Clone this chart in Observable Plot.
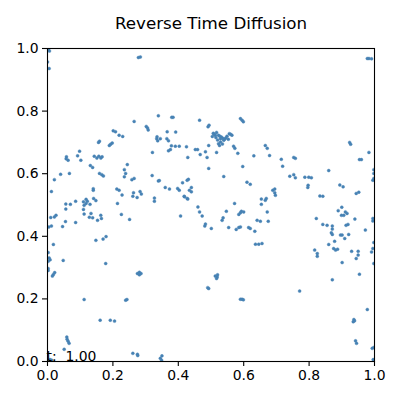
<!DOCTYPE html>
<html>
<head>
<meta charset="utf-8">
<script src="https://cdn.jsdelivr.net/npm/d3@7"></script>
<script src="https://cdn.jsdelivr.net/npm/@observablehq/plot@0.6"></script>
<style>
  html, body { margin: 0; padding: 0; background: white; }
  #chart svg { display: block; }
  #chart svg text { white-space: pre; }
</style>
</head>
<body>
<div id="chart"></div>
<script>
// Sample positions (x, y), grouped by region
const regionTop = [[0.003,0.997],[0.006,0.992],[0.000,0.957],[0.005,0.936],[0.284,0.973],[0.278,0.971],[0.983,0.968],[0.978,0.968],[0.991,0.967]];

const regionUpperLeft = [[0.339,0.785],[0.265,0.767],[0.306,0.746],[0.302,0.751],[0.308,0.740],[0.201,0.737],[0.208,0.734],[0.219,0.723],[0.230,0.719],[0.334,0.712],[0.337,0.705],[0.156,0.700],[0.159,0.704],[0.189,0.690],[0.198,0.698],[0.193,0.694],[0.098,0.672],[0.321,0.668],[0.058,0.654],[0.063,0.643],[0.057,0.648],[0.092,0.657],[0.102,0.643],[0.143,0.656],[0.157,0.656],[0.163,0.650],[0.151,0.650],[0.167,0.654],[0.244,0.629],[0.131,0.626],[0.138,0.620],[0.235,0.613],[0.159,0.601],[0.171,0.593],[0.166,0.597],[0.239,0.601],[0.235,0.590],[0.040,0.598],[0.067,0.601],[0.320,0.594],[0.258,0.581],[0.265,0.585],[0.021,0.581],[0.339,0.577],[0.012,0.543],[0.140,0.547],[0.140,0.552],[0.212,0.551],[0.219,0.547],[0.228,0.532],[0.263,0.539],[0.261,0.528],[0.283,0.543],[0.287,0.535],[0.274,0.524],[0.327,0.522],[0.141,0.521],[0.118,0.518]];

const regionUpperMiddle = [[0.380,0.780],[0.384,0.780],[0.465,0.771],[0.595,0.771],[0.590,0.776],[0.599,0.766],[0.491,0.750],[0.494,0.755],[0.513,0.723],[0.529,0.712],[0.539,0.707],[0.523,0.696],[0.556,0.728],[0.564,0.723],[0.549,0.720],[0.507,0.729],[0.517,0.732],[0.523,0.723],[0.532,0.717],[0.541,0.710],[0.520,0.708],[0.529,0.701],[0.535,0.695],[0.504,0.719],[0.553,0.710],[0.526,0.690],[0.510,0.726],[0.515,0.716],[0.527,0.720],[0.536,0.713],[0.545,0.714],[0.560,0.726],[0.366,0.734],[0.392,0.733],[0.335,0.718],[0.345,0.712],[0.365,0.712],[0.370,0.705],[0.379,0.689],[0.391,0.688],[0.403,0.688],[0.425,0.686],[0.493,0.690],[0.569,0.688],[0.573,0.681],[0.370,0.673],[0.376,0.677],[0.452,0.677],[0.459,0.677],[0.483,0.670],[0.467,0.661],[0.517,0.668],[0.582,0.665],[0.429,0.652],[0.488,0.652],[0.631,0.657],[0.666,0.690],[0.672,0.681],[0.679,0.658],[0.493,0.617],[0.597,0.623],[0.539,0.591],[0.342,0.578],[0.427,0.579],[0.431,0.582],[0.413,0.571],[0.610,0.573],[0.620,0.566],[0.360,0.556],[0.373,0.551],[0.398,0.553],[0.403,0.547],[0.434,0.547],[0.440,0.556],[0.440,0.542],[0.418,0.528],[0.427,0.521],[0.654,0.519],[0.669,0.521]];

const regionUpperRight = [[0.715,0.646],[0.719,0.624],[0.753,0.652],[0.758,0.649],[0.924,0.700],[0.927,0.694],[0.983,0.668],[0.960,0.645],[0.954,0.645],[0.860,0.610],[0.741,0.592],[0.753,0.597],[0.758,0.587],[0.787,0.589],[0.799,0.589],[0.807,0.587],[0.998,0.613],[0.998,0.601],[0.998,0.585],[0.995,0.579],[0.797,0.563],[0.796,0.556],[0.894,0.564],[0.904,0.558],[0.689,0.547],[0.695,0.539],[0.697,0.531],[0.695,0.551],[0.833,0.529],[0.842,0.528],[0.944,0.537],[0.952,0.541]];

const regionLowerLeft = [[0.056,0.503],[0.056,0.487],[0.070,0.502],[0.086,0.512],[0.110,0.510],[0.118,0.505],[0.112,0.499],[0.122,0.512],[0.130,0.502],[0.148,0.514],[0.110,0.486],[0.112,0.471],[0.133,0.473],[0.138,0.459],[0.128,0.461],[0.163,0.467],[0.165,0.457],[0.153,0.451],[0.010,0.460],[0.021,0.462],[0.026,0.467],[0.055,0.447],[0.086,0.444],[0.004,0.430],[0.012,0.433],[0.046,0.431],[0.214,0.505],[0.327,0.512],[0.226,0.470],[0.251,0.454],[0.148,0.387],[0.170,0.391],[0.179,0.399],[0.018,0.374],[0.002,0.348],[0.005,0.331],[0.002,0.320],[0.008,0.325],[0.048,0.323],[0.178,0.313],[0.002,0.297],[0.002,0.291],[0.018,0.278],[0.015,0.273],[0.022,0.284],[0.275,0.281],[0.286,0.281],[0.281,0.277],[0.281,0.285]];

const regionLowerMiddle = [[0.419,0.526],[0.429,0.519],[0.460,0.494],[0.465,0.478],[0.473,0.465],[0.407,0.465],[0.483,0.439],[0.481,0.433],[0.501,0.425],[0.537,0.459],[0.534,0.451],[0.547,0.480],[0.572,0.505],[0.593,0.480],[0.600,0.478],[0.585,0.470],[0.590,0.475],[0.554,0.428],[0.577,0.422],[0.585,0.428],[0.590,0.430],[0.615,0.428],[0.620,0.425],[0.634,0.416],[0.654,0.502],[0.672,0.478],[0.641,0.451],[0.651,0.448],[0.675,0.448],[0.646,0.375],[0.636,0.375],[0.656,0.377],[0.519,0.270],[0.513,0.273],[0.520,0.277],[0.517,0.265]];

const regionLowerRight = [[0.666,0.515],[0.822,0.457],[0.842,0.438],[0.855,0.435],[0.871,0.433],[0.871,0.423],[0.900,0.493],[0.889,0.482],[0.911,0.478],[0.906,0.467],[0.916,0.473],[0.899,0.467],[0.940,0.455],[0.919,0.438],[0.913,0.435],[0.972,0.420],[0.995,0.457],[0.995,0.449],[0.871,0.406],[0.868,0.411],[0.896,0.404],[0.901,0.404],[0.921,0.406],[0.909,0.393],[0.878,0.384],[0.860,0.374],[0.817,0.356],[0.825,0.345],[0.825,0.336],[0.875,0.361],[0.881,0.356],[0.887,0.359],[0.930,0.352],[0.950,0.352],[0.950,0.340],[0.944,0.329],[0.998,0.380],[0.995,0.361],[0.991,0.350],[0.901,0.316],[0.998,0.313],[0.954,0.279],[0.871,0.261]];

const regionBottom = [[0.161,0.132],[0.192,0.132],[0.205,0.129],[0.112,0.198],[0.239,0.196],[0.243,0.198],[0.060,0.071],[0.063,0.065],[0.066,0.058],[0.059,0.078],[0.051,0.039],[0.261,0.026],[0.275,0.023],[0.276,0.019],[0.345,0.010],[0.350,0.018],[0.349,0.004],[0.001,0.004],[0.008,0.006],[0.013,0.004],[0.771,0.225],[0.978,0.166],[0.937,0.134],[0.939,0.130],[0.935,0.127],[0.942,0.066],[0.945,0.058],[0.993,0.042],[0.998,0.045],[0.996,0.006],[0.590,0.199],[0.595,0.199],[0.599,0.197],[0.490,0.236],[0.493,0.233]];

const tickValues = [0, 0.2, 0.4, 0.6, 0.8, 1.0];
const titleText = "Reverse Time Diffusion";
const timeLabel = "t:  1.00";

const points = [].concat(regionTop, regionUpperLeft, regionUpperMiddle, regionUpperRight,
  regionLowerLeft, regionLowerMiddle, regionLowerRight, regionBottom)
  .map(([x, y]) => ({x, y}));

const chart = Plot.plot({
  width: 400,
  height: 400,
  marginLeft: 47,
  marginRight: 26,
  marginTop: 48,
  marginBottom: 39,
  x: {domain: [0, 1]},
  y: {domain: [0, 1]},
  style: {fontFamily: "DejaVu Sans", fontSize: "13.9px", color: "black", background: "white"},
  marks: [
    Plot.dot(points, {x: "x", y: "y", r: 1.5, fill: "#4682b4", stroke: "#4682b4", strokeWidth: 0.4, clip: true}),
    Plot.frame({stroke: "black", strokeWidth: 1.1}),
    Plot.axisX({ticks: tickValues, tickFormat: d3.format(".1f"), tickSize: 5, tickPadding: 4, strokeWidth: 1.1, label: null}),
    Plot.axisY({ticks: tickValues, tickFormat: d3.format(".1f"), tickSize: 5, tickPadding: 4, strokeWidth: 1.1, label: null}),
    Plot.text([titleText], {frameAnchor: "top", lineAnchor: "middle", dy: -25, fontSize: 16.7, fill: "black"}),
    Plot.text([timeLabel], {frameAnchor: "bottom-left", lineAnchor: "middle", textAnchor: "start", dx: -1, dy: -5, fill: "black"})
  ]
});
document.getElementById("chart").appendChild(chart);
</script>
</body>
</html>
